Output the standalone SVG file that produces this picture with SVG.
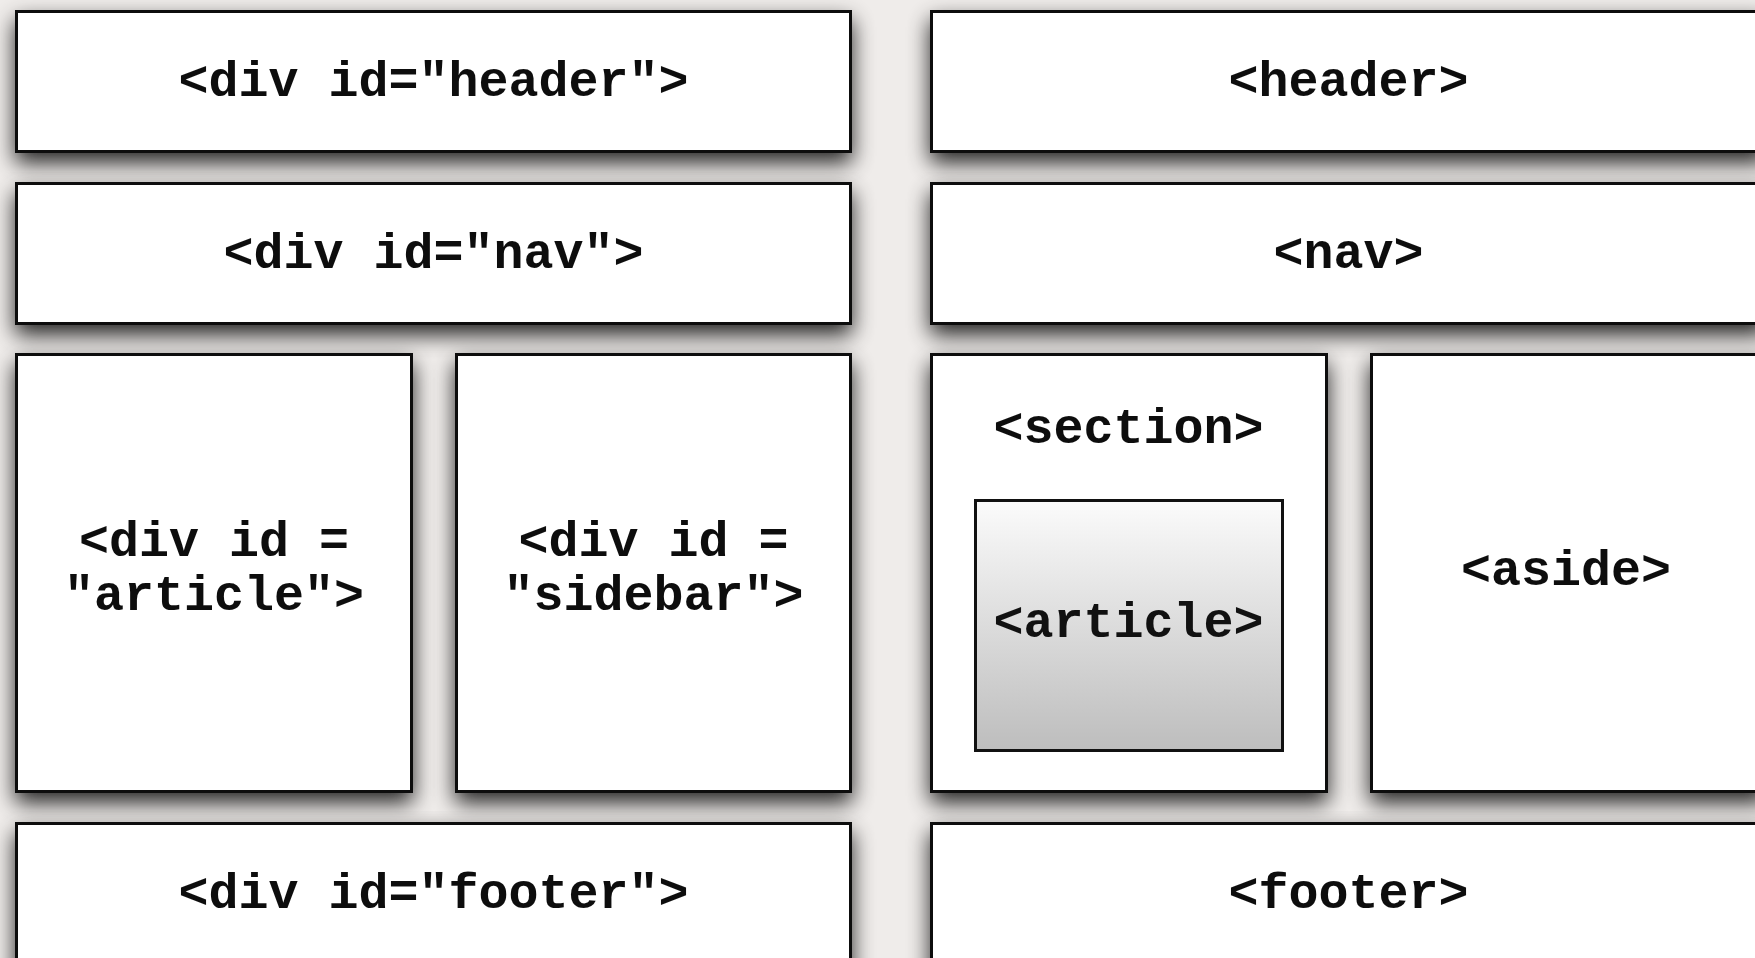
<svg xmlns="http://www.w3.org/2000/svg" width="1755" height="958" viewBox="0 0 1755 958">
  <defs>
    <filter id="drop" x="-10%" y="-15%" width="120%" height="140%">
      <feGaussianBlur in="SourceAlpha" stdDeviation="11"/>
      <feOffset dx="0" dy="10" result="blur"/>
      <feComponentTransfer>
        <feFuncA type="linear" slope="0.85"/>
      </feComponentTransfer>
      <feMerge>
        <feMergeNode/>
        <feMergeNode in="SourceGraphic"/>
      </feMerge>
    </filter>
    <linearGradient id="inner" x1="0" y1="0" x2="0" y2="1">
      <stop offset="0" stop-color="#fbfbfb"/>
      <stop offset="1" stop-color="#bdbdbd"/>
    </linearGradient>
  </defs>
  <style>
    .box { fill: #ffffff; stroke: #111111; stroke-width: 3; }
    .inner { fill: url(#inner); stroke: #111111; stroke-width: 3; }
    .label { font-family: "Liberation Mono", "Courier New", monospace; font-weight: bold; font-size: 50px; fill: #111111; text-anchor: middle; }
  </style>

  <rect x="0" y="0" width="1755" height="958" fill="#efecea"/>

  <!-- old-style layout built from divs -->
  <g id="div-header" filter="url(#drop)">
    <rect class="box" x="16.5" y="11.5" width="834" height="140"/>
    <text class="label" x="433.5" y="96">&lt;div id="header"&gt;</text>
  </g>
  <g id="div-nav" filter="url(#drop)">
    <rect class="box" x="16.5" y="183.5" width="834" height="140"/>
    <text class="label" x="433.5" y="268">&lt;div id="nav"&gt;</text>
  </g>
  <g id="div-article" filter="url(#drop)">
    <rect class="box" x="16.5" y="354.5" width="395" height="437"/>
    <text class="label" x="214" y="556">&lt;div id =</text>
    <text class="label" x="214" y="610">"article"&gt;</text>
  </g>
  <g id="div-sidebar" filter="url(#drop)">
    <rect class="box" x="456.5" y="354.5" width="394" height="437"/>
    <text class="label" x="653.5" y="556">&lt;div id =</text>
    <text class="label" x="653.5" y="610">"sidebar"&gt;</text>
  </g>
  <g id="div-footer" filter="url(#drop)">
    <rect class="box" x="16.5" y="823.5" width="834" height="150"/>
    <text class="label" x="433.5" y="908">&lt;div id="footer"&gt;</text>
  </g>

  <!-- the same layout with HTML5 elements -->
  <g id="header" filter="url(#drop)">
    <rect class="box" x="931.5" y="11.5" width="834" height="140"/>
    <text class="label" x="1348.5" y="96">&lt;header&gt;</text>
  </g>
  <g id="nav" filter="url(#drop)">
    <rect class="box" x="931.5" y="183.5" width="834" height="140"/>
    <text class="label" x="1348.5" y="268">&lt;nav&gt;</text>
  </g>
  <g id="section" filter="url(#drop)">
    <rect class="box" x="931.5" y="354.5" width="395" height="437"/>
    <text class="label" x="1128.5" y="443">&lt;section&gt;</text>
  </g>
  <g id="article">
    <rect class="inner" x="975.5" y="500.5" width="307" height="250"/>
    <text class="label" x="1128.5" y="637">&lt;article&gt;</text>
  </g>
  <g id="aside" filter="url(#drop)">
    <rect class="box" x="1371.5" y="354.5" width="394" height="437"/>
    <text class="label" x="1566" y="585">&lt;aside&gt;</text>
  </g>
  <g id="footer" filter="url(#drop)">
    <rect class="box" x="931.5" y="823.5" width="834" height="150"/>
    <text class="label" x="1348.5" y="908">&lt;footer&gt;</text>
  </g>

  <g id="connectors"/>
</svg>
